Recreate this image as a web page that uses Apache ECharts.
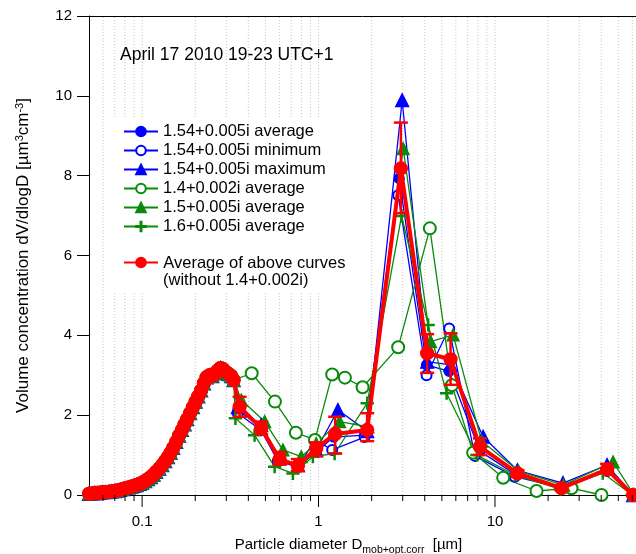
<!DOCTYPE html>
<html><head><meta charset="utf-8">
<script src="https://cdn.jsdelivr.net/npm/echarts@6/dist/echarts.min.js"></script>
<style>html,body{margin:0;padding:0;background:#fff}#c{width:636px;height:554px}</style>
</head><body><div id="c"></div>
<script>
// ---- data ----
const fineD = [0.050,0.052,0.054,0.056,0.058,0.060,0.062,0.065,0.067,0.070,0.072,0.075,0.078,0.081,0.084,0.087,0.090,0.093,0.097,0.100,0.104,0.108,0.112,0.116,0.120,0.125,0.130,0.135,0.140,0.145,0.150,0.156,0.162,0.168,0.174,0.180,0.187,0.194,0.201,0.208,0.216,0.224,0.232,0.241,0.250,0.259,0.268,0.278,0.288,0.299,0.310,0.320,0.330];
const fineV = [0.03,0.04,0.05,0.05,0.06,0.07,0.07,0.08,0.09,0.10,0.11,0.13,0.15,0.17,0.19,0.21,0.23,0.25,0.28,0.31,0.35,0.40,0.45,0.51,0.58,0.66,0.75,0.85,0.95,1.06,1.18,1.33,1.49,1.63,1.77,1.90,2.05,2.20,2.34,2.47,2.62,2.80,2.95,3.00,2.98,3.05,3.12,3.18,3.15,3.08,3.03,2.98,2.88];

const avg154D = [0.349,0.473,0.589,0.764,0.970,1.22,1.824,2.864,4.095,5.50,8.21,13.2,24.0,43.2,60.7];
const avg154V = [2.13,1.70,0.88,0.71,1.08,1.45,1.50,7.93,3.26,3.10,1.10,0.50,0.20,0.62,0.0];
const min154D = [0.349,0.473,0.589,0.764,0.954,1.195,1.824,2.827,4.095,5.50,7.69,12.96,24.0,43.2,60.7];
const min154V = [2.05,1.62,0.85,0.70,1.38,1.13,1.45,7.51,3.00,4.17,0.98,0.46,0.18,0.60,0.0];
const max154D = [0.349,0.473,0.602,0.764,0.970,1.288,1.887,2.979,4.13,5.60,8.57,13.4,24.3,43.2,60.7];
const max154V = [2.20,1.75,0.92,0.75,1.12,2.13,1.60,9.89,3.34,3.26,1.46,0.62,0.30,0.75,0.0];
const avg14D = [0.418,0.566,0.744,0.954,1.195,1.411,1.777,2.827,4.275,5.70,7.52,11.13,17.2,27.15,40.16];
const avg14V = [3.05,2.34,1.56,1.38,3.02,2.94,2.70,3.70,6.68,2.75,1.06,0.43,0.10,0.17,0.0];
const avg15D = [0.365,0.495,0.628,0.798,0.970,1.316,1.904,3.017,4.315,5.79,8.4,13.6,24.5,46.7,61.5];
const avg15V = [2.38,1.84,1.13,0.96,1.29,1.84,1.71,8.68,3.84,4.01,1.35,0.60,0.25,0.83,0.0];
const avg16D = [0.338,0.434,0.564,0.716,0.929,1.233,1.887,2.955,4.181,5.32,7.9,13.0,23.5,40.85,60.0];
const avg16V = [1.92,1.50,0.71,0.54,0.96,1.04,2.30,6.99,4.26,2.55,1.00,0.50,0.15,0.55,0.0];
const meanD = [0.357,0.473,0.602,0.764,0.970,1.243,1.887,2.928,4.127,5.60,8.21,13.43,23.84,43.2,60.7];
const meanV = [2.21,1.67,0.90,0.73,1.17,1.53,1.63,8.18,3.55,3.40,1.21,0.54,0.17,0.64,0.0];
const meanLo = [1.96,1.52,0.76,0.60,0.98,1.04,1.35,7.06,3.06,2.76,1.00,0.45,0.12,0.55,0.0];
const meanHi = [2.46,1.84,1.08,0.90,1.32,1.96,2.05,9.33,4.03,4.05,1.42,0.62,0.25,0.78,0.0];

const majorTicks = [0.1, 1, 10];
const minorTicks = [0.06,0.07,0.08,0.09,0.2,0.3,0.4,0.5,0.6,0.7,0.8,0.9,2,3,4,5,6,7,8,9,20,30,40,50,60];

const names = ['1.54+0.005i average','1.54+0.005i minimum','1.54+0.005i maximum','1.4+0.002i average','1.5+0.005i average','1.6+0.005i average'];
const meanName = 'Average of above curves';
const meanName2 = '(without 1.4+0.002i)';

// ---- build ----
const BLUE = '#0000ff', GREEN = '#0a8a0a', RED = '#ff0000';
const FONT = 'Liberation Sans, Arial, sans-serif';
const CROSS = 'path://M9,0h2v9h9v2h-9v9h-2v-9h-9v-2h9z';
function pts(D, V) { return fineD.map((d, i) => [d, fineV[i]]).concat(D.map((d, i) => [d, V[i]])); }
function lineSeries(name, D, V, color, symbol, size, extra) {
  return Object.assign({
    name, type: 'line', data: pts(D, V), symbol, symbolSize: size, showAllSymbol: true,
    lineStyle: { color, width: 1.3 }, itemStyle: { color, borderColor: color, borderWidth: 1.3 },
    emphasis: { disabled: true }, animation: false, clip: true, z: 2
  }, extra || {});
}
const tickData = majorTicks.map(v => [v, 1]).concat(minorTicks.map(v => [v, 0]));
const gridData = majorTicks.concat(minorTicks).map(v => [v]);

const chart = echarts.init(document.getElementById('c'), null, { renderer: 'canvas' });
chart.setOption({
  animation: false,
  textStyle: { fontFamily: FONT },
  grid: { left: 89, right: 0, top: 16, bottom: 59, containLabel: false, outerBoundsMode: 'none' },
  title: { text: 'April 17 2010 19-23 UTC+1', left: 115, top: 41, textStyle: { fontFamily: FONT, fontSize: 17.5, fontWeight: 'normal', color: '#000' } },
  graphic: [{ type: 'rect', shape: { x: 108, y: 118, width: 262, height: 174 }, style: { fill: '#fff' }, z: 3, silent: true }],
  legend: [
    { data: names, orient: 'vertical', left: 118, top: 118, itemWidth: 34, itemHeight: 12, itemGap: 2,
      textStyle: { fontFamily: FONT, fontSize: 16.5, color: '#000' }, selectedMode: false, z: 5 },
    { data: [meanName], orient: 'vertical', left: 118, top: 248, itemWidth: 34, itemHeight: 12,
      formatter: n => '{s| }{a|' + n + '}\n{b|' + meanName2 + '}',
      textStyle: { fontFamily: FONT, fontSize: 16.5, color: '#000',
        rich: { s: { fontSize: 1, lineHeight: 36 }, a: { fontSize: 16.5, lineHeight: 18, verticalAlign: 'bottom' }, b: { fontSize: 16.5, lineHeight: 18 } } },
      selectedMode: false, z: 5 }
  ],
  xAxis: [{
    type: 'log', logBase: 10, min: 0.05, max: 63,
    axisLine: { show: true, lineStyle: { color: '#000', width: 1 } },
    axisTick: { show: false }, splitLine: { show: false }, minorTick: { show: false },
    axisLabel: { fontSize: 15, color: '#000', margin: 19, showMinLabel: false, showMaxLabel: false,
      formatter: v => { const l = Math.log10(v); return Math.abs(l - Math.round(l)) < 1e-6 ? String(+v.toPrecision(3)) : ''; } },
    name: 'Particle diameter D{sub|mob+opt.corr}  [µm]', nameLocation: 'middle', nameGap: 38,
    nameTextStyle: { fontSize: 15, color: '#000', padding: [0, 28, 0, 0],
      rich: { sub: { fontSize: 10.5, verticalAlign: 'bottom', padding: [12, 0, 0, 0] } } }
  }, {
    type: 'log', logBase: 10, min: 0.05, max: 63, position: 'top',
    axisLine: { show: true, lineStyle: { color: '#000', width: 1 } },
    axisTick: { show: false }, axisLabel: { show: false }, splitLine: { show: false }
  }],
  yAxis: {
    type: 'value', min: 0, max: 12, interval: 2,
    axisLine: { show: true, lineStyle: { color: '#000', width: 1 } },
    axisTick: { show: true, length: 12, lineStyle: { color: '#000' } },
    splitLine: { show: false },
    axisLabel: { fontSize: 15, color: '#000', margin: 17 },
    name: 'Volume concentration dV/dlogD [µm{sup|3}cm{sup|-3}]', nameLocation: 'middle', nameGap: 56,
    nameTextStyle: { fontSize: 17, color: '#000', rich: { sup: { fontSize: 11, verticalAlign: 'top', padding: [0, 0, 8, 0] } } }
  },
  series: [
    { type: 'custom', name: 'grid', silent: true, z: 1, clip: false, data: gridData,
      renderItem: (p, api) => { const a = api.coord([api.value(0), 0]); const b = api.coord([api.value(0), 12]);
        return { type: 'line', shape: { x1: a[0], y1: a[1], x2: b[0], y2: b[1] }, style: { stroke: '#c4c4c4', lineWidth: 1, lineDash: [1, 2] } }; } },
    { type: 'custom', name: 'ticks', silent: true, z: 6, clip: false, data: tickData,
      renderItem: (p, api) => { const a = api.coord([api.value(0), 0]); const len = api.value(1) ? 12 : 6;
        return { type: 'line', shape: { x1: a[0], y1: a[1], x2: a[0], y2: a[1] + len }, style: { stroke: '#000', lineWidth: 1 } }; } },
    lineSeries(names[0], avg154D, avg154V, BLUE, 'circle', 10),
    lineSeries(names[1], min154D, min154V, BLUE, 'emptyCircle', 10),
    lineSeries(names[2], max154D, max154V, BLUE, 'triangle', 13),
    lineSeries(names[3], avg14D, avg14V, GREEN, 'emptyCircle', 12),
    lineSeries(names[4], avg15D, avg15V, GREEN, 'triangle', 12),
    lineSeries(names[5], avg16D, avg16V, GREEN, CROSS, 12),
    lineSeries(meanName, meanD, meanV, RED, 'circle', 13, { lineStyle: { color: RED, width: 4 }, z: 3 }),
    { type: 'custom', name: 'err', silent: true, z: 4, clip: false,
      data: meanD.map((d, i) => [d, meanLo[i], meanHi[i]]),
      renderItem: (p, api) => { const lo = api.coord([api.value(0), api.value(1)]); const hi = api.coord([api.value(0), api.value(2)]);
        const st = { stroke: RED, lineWidth: 2.5 };
        return { type: 'group', children: [
          { type: 'line', shape: { x1: lo[0], y1: lo[1], x2: hi[0], y2: hi[1] }, style: st },
          { type: 'line', shape: { x1: lo[0] - 7, y1: lo[1], x2: lo[0] + 7, y2: lo[1] }, style: st },
          { type: 'line', shape: { x1: hi[0] - 7, y1: hi[1], x2: hi[0] + 7, y2: hi[1] }, style: st } ] }; } }
  ]
});
</script></body></html>
